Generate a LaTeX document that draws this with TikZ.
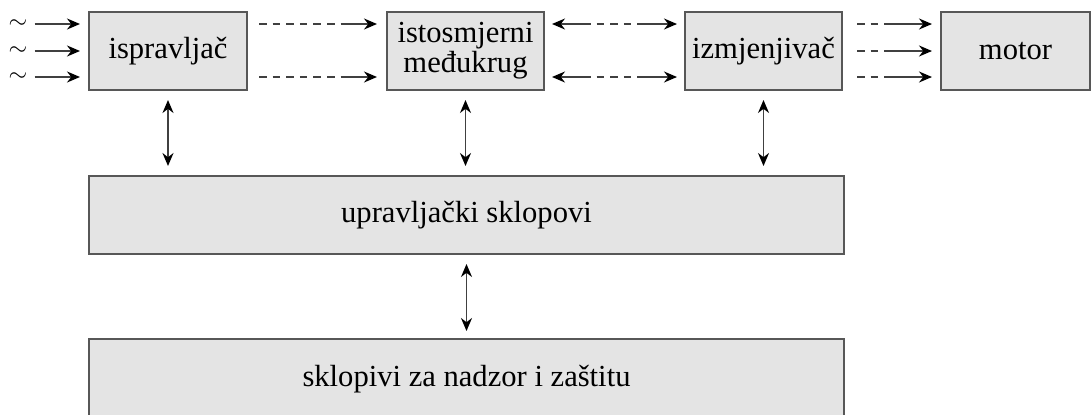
\documentclass[tikz,border=0pt]{standalone}
\usepackage{fontspec}
\setmainfont{Liberation Serif}
\usetikzlibrary{arrows.meta,calc}
\definecolor{boxgray}{HTML}{E4E4E4}
\definecolor{edgegray}{HTML}{575757}
\tikzset{
  blok/.style={draw=edgegray, line width=1pt, fill=boxgray, inner sep=0pt,
    minimum height=39pt, align=center, font={\fontsize{15.3}{13}\selectfont}},
  veza/.style={draw=black!75, line width=0.8pt},
  crtkano/.style={veza, dash pattern=on 3.8pt off 3pt},
  glava/.style={-{Stealth[length=6.5pt,width=5.5pt,color=black]}},
  glave/.style={{Stealth[length=6.5pt,width=5.5pt,color=black]}-{Stealth[length=6.5pt,width=5.5pt,color=black]}},
}
\begin{document}
\begin{tikzpicture}[x=0.5pt,y=-0.5pt]
    \useasboundingbox (0,0) rectangle (1092,414);
    \node[blok, minimum width=79pt] (isp) at (168,51) {ispravljač};
    \node[blok, minimum width=78.5pt] (ist) at (465.5,51) {istosmjerni\\međukrug};
    \node[blok, minimum width=78.5pt] (izm) at (763.5,51) {izmjenjivač};
    \node[blok, minimum width=74.5pt] (mot) at (1015.5,51) {motor};
    \node[blok, minimum width=377.5pt] (upr) at (466.5,215) {upravljački sklopovi};
    \node[blok, minimum width=377.5pt, minimum height=40pt] (nad) at (466.5,379) {sklopivi za nadzor i zaštitu};
    \foreach \i/\yy in {1/24,2/51,3/77} {
        \node[inner sep=0pt, font={\fontsize{11.5}{11.5}\selectfont}] (sin\i) at (18,\yy) {$\sim$};
        \draw[veza, glava, shorten <=3.5pt, shorten >=4pt] (sin\i.east) -- (sin\i -| isp.west);
        \draw[crtkano, shorten <=7pt] (izm.east |- sin\i) -- ($(mot.west |- sin\i)+(-48,0)$);
        \draw[veza, glava, shorten >=4pt] ($(mot.west |- sin\i)+(-48,0)$) -- (mot.west |- sin\i);
    }
    \foreach \i in {1,3} {
        \draw[crtkano, shorten <=5.5pt] (isp.east |- sin\i) -- ($(ist.west |- sin\i)+(-44,0)$);
        \draw[veza, glava, shorten >=4.5pt] ($(ist.west |- sin\i)+(-44,0)$) -- (ist.west |- sin\i);
        \draw[crtkano] ($(ist.east |- sin\i)+(38,0)$) -- ($(izm.west |- sin\i)+(-41,0)$);
        \draw[veza, glava, shorten >=3.5pt] ($(ist.east |- sin\i)+(38,0)$) -- (ist.east |- sin\i);
        \draw[veza, glava, shorten >=3.5pt] ($(izm.west |- sin\i)+(-41,0)$) -- (izm.west |- sin\i);
    }
    \foreach \n in {isp,ist,izm}
        \draw[veza, glave, shorten <=4.5pt, shorten >=4.5pt] (\n.south) -- (\n.south |- upr.north);
    \draw[veza, glave, shorten <=4.5pt, shorten >=3.5pt] (upr.south) -- (nad.north);
\end{tikzpicture}
\end{document}
